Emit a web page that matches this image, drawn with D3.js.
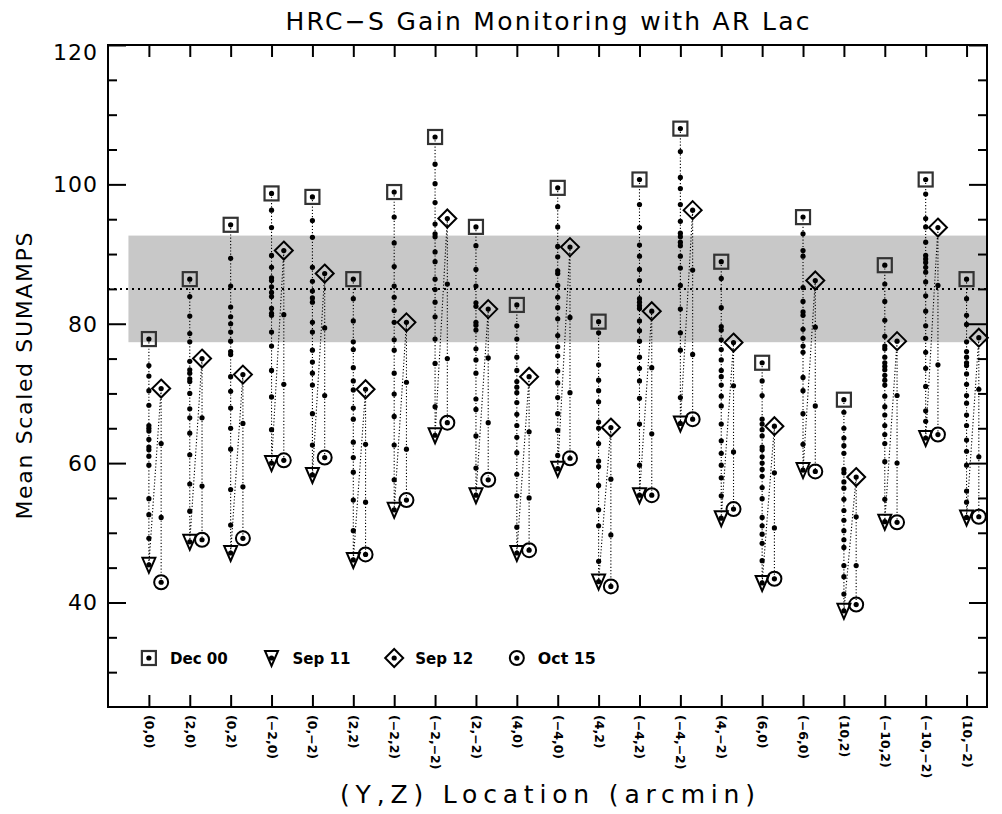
<!DOCTYPE html>
<html>
<head>
<meta charset="utf-8">
<script src="https://cdn.jsdelivr.net/npm/d3@7"></script>
<style>
  html, body { margin: 0; padding: 0; background: #fff; }
  svg { display: block; }
</style>
</head>
<body>
<svg id="chart" width="1002" height="814"></svg>
<script>
// ---------------- data ----------------
const locations = ["(0,0)","(2,0)","(0,2)","(\u22122,0)","(0,\u22122)","(2,2)","(\u22122,2)","(\u22122,\u22122)","(2,\u22122)","(4,0)","(\u22124,0)","(4,2)","(\u22124,2)","(\u22124,\u22122)","(4,\u22122)","(6,0)","(\u22126,0)","(10,2)","(\u221210,2)","(\u221210,\u22122)","(10,\u22122)"];

const dec00 = [77.8, 86.4, 94.2, 98.7, 98.2, 86.4, 98.9, 106.8, 93.9, 82.7, 99.5, 80.3, 100.7, 108.0, 88.9, 74.4, 95.3, 69.1, 88.4, 100.7, 86.4];
const sep11 = [45.4, 48.7, 47.1, 60.0, 58.3, 46.1, 53.3, 64.0, 55.4, 47.1, 59.2, 43.0, 55.4, 65.7, 52.1, 42.8, 59.0, 38.8, 51.6, 63.6, 52.2];
const sep12 = [70.7, 75.0, 72.7, 90.5, 87.2, 70.6, 80.2, 95.1, 82.1, 72.4, 91.0, 65.1, 81.8, 96.3, 77.3, 65.3, 86.2, 58.0, 77.5, 93.8, 78.0];
const oct15 = [42.9, 49.0, 49.2, 60.4, 60.8, 46.9, 54.7, 65.8, 57.6, 47.5, 60.7, 42.3, 55.4, 66.3, 53.4, 43.4, 58.8, 39.7, 51.5, 64.1, 52.3];

// intermediate epochs between Dec 00 and Sep 11
const earlyDots = [
  [74.0, 72.5, 70.4, 68.3, 65.4, 65.0, 64.6, 63.4, 62.3, 61.9, 61.0, 59.7, 54.9, 52.6, 49.2],
  [83.9, 81.1, 78.6, 77.4, 74.6, 73.4, 72.9, 72.1, 71.7, 70.0, 67.8, 66.5, 64.3, 61.2, 57.0, 53.1],
  [89.4, 85.4, 82.4, 81.0, 80.0, 78.8, 77.5, 76.0, 75.6, 72.4, 70.3, 67.9, 65.0, 62.0, 56.2, 51.1],
  [96.3, 93.8, 89.8, 88.1, 86.6, 86.2, 85.3, 84.5, 83.9, 82.2, 81.5, 81.2, 78.8, 76.8, 73.3, 69.5, 64.8],
  [94.8, 92.4, 88.1, 86.1, 84.7, 83.7, 83.1, 80.2, 78.8, 76.2, 74.5, 72.9, 71.2, 67.1, 62.6],
  [83.6, 80.4, 77.4, 76.3, 73.7, 71.8, 70.5, 67.9, 66.3, 63.0, 60.8, 58.7, 54.7, 50.3],
  [95.3, 91.6, 88.2, 85.4, 83.8, 81.9, 80.2, 77.7, 76.2, 72.9, 69.9, 66.7, 62.6, 57.6],
  [102.9, 100.1, 97.4, 94.3, 92.9, 92.5, 90.3, 88.9, 86.4, 84.9, 83.1, 81.0, 77.8, 74.3, 68.1],
  [91.2, 87.8, 85.4, 83.0, 82.5, 80.2, 79.8, 79.1, 76.4, 74.8, 72.9, 69.2, 67.7, 63.9, 59.3],
  [79.7, 77.8, 75.2, 73.3, 71.7, 70.9, 70.1, 68.7, 67.0, 65.4, 63.7, 61.5, 58.4, 55.3, 50.8],
  [96.8, 93.9, 91.1, 89.6, 87.6, 87.2, 85.5, 83.8, 82.3, 80.7, 78.3, 76.7, 75.4, 73.2, 71.5, 69.4, 67.1, 64.7, 61.1],
  [78.7, 74.1, 71.9, 70.4, 68.8, 65.9, 65.0, 62.8, 60.3, 59.5, 56.8, 53.3, 51.0, 45.9],
  [97.1, 93.8, 91.3, 89.7, 87.8, 86.2, 83.6, 83.1, 82.6, 82.2, 80.4, 79.0, 77.5, 75.2, 73.6, 71.8, 69.3, 65.6, 59.7],
  [104.7, 101.0, 99.4, 97.1, 94.7, 93.0, 92.5, 91.7, 91.2, 89.7, 88.0, 85.5, 82.1, 78.7, 76.2, 69.4],
  [86.5, 82.3, 79.6, 79.1, 77.7, 76.3, 74.8, 73.3, 72.4, 71.2, 69.6, 68.2, 65.6, 63.2, 61.4, 59.7, 57.9, 55.3],
  [71.8, 69.7, 66.3, 65.6, 64.8, 63.9, 62.3, 61.9, 60.9, 60.0, 59.1, 58.1, 56.5, 54.9, 52.2, 51.0, 49.8, 48.5, 46.0],
  [92.9, 90.5, 89.7, 85.2, 83.2, 81.7, 81.2, 79.2, 77.9, 76.8, 75.9, 72.3, 70.4, 67.1, 62.7],
  [67.3, 65.0, 63.6, 62.5, 61.4, 59.1, 58.6, 57.3, 56.4, 54.8, 53.2, 51.8, 50.3, 49.0, 47.9, 45.3, 43.7, 41.2],
  [85.7, 83.2, 80.5, 78.2, 76.8, 76.4, 75.2, 74.4, 73.9, 73.4, 72.6, 71.9, 71.2, 69.6, 68.1, 66.9, 65.4, 64.1, 62.8, 60.2, 54.8],
  [98.6, 95.1, 93.9, 91.7, 89.8, 89.3, 88.8, 88.1, 87.4, 86.0, 84.0, 81.8, 79.7, 77.9, 75.9, 73.6, 71.0, 67.5, 66.0],
  [83.6, 81.2, 79.9, 77.4, 76.0, 75.2, 74.4, 74.0, 72.8, 71.3, 69.7, 68.6, 66.9, 65.4, 63.3, 61.7, 59.7, 56.0, 54.4]
];

// intermediate epochs between Sep 12 and Oct 15
const lateDots = [
  [62.8, 52.2], [66.5, 56.7], [65.7, 56.6], [81.3, 71.3], [79.4, 69.7], [62.7, 54.4], [71.6, 62.0],
  [85.7, 75.0], [75.1, 65.8], [64.5, 55.0], [80.9, 70.1], [57.7, 49.7], [73.7, 64.2], [87.7, 75.6],
  [71.1, 61.6], [58.6, 50.7], [79.5, 68.2], [52.3, 45.3], [69.7, 60.0], [85.5, 74.1], [70.6, 60.9]
];

const nominalGain = 85;
const gainBand = [77.35, 92.65];
const yMajorTicks = [40, 60, 80, 100, 120];
const yMinorTicks = [30, 35, 45, 50, 55, 65, 70, 75, 85, 90, 95, 105, 110, 115];
const legendLabels = ["Dec 00", "Sep 11", "Sep 12", "Oct 15"];

// ---------------- layout ----------------
const plotLeft = 108, plotRight = 987, plotTop = 45, plotBottom = 707;
const lateOffset = 0.3;

const svg = d3.select("#chart");
const x = d3.scaleLinear().domain([-1, 20.5]).range([plotLeft, plotRight]);
const y = d3.scaleLinear().domain([25, 120]).range([plotBottom, plotTop]);

const font = "'DejaVu Sans', 'Liberation Sans', sans-serif";

// band
svg.append("rect")
  .attr("x", x(-0.5)).attr("width", x(20.5) - x(-0.5))
  .attr("y", y(gainBand[1])).attr("height", y(gainBand[0]) - y(gainBand[1]))
  .attr("fill", "#c8c8c8");

// nominal line
svg.append("line")
  .attr("x1", x(-1)).attr("x2", x(20.5))
  .attr("y1", y(nominalGain)).attr("y2", y(nominalGain))
  .attr("stroke", "#000").attr("stroke-width", 2).attr("stroke-dasharray", "2,4");

// series paths
const line = d3.line().x(d => x(d[0])).y(d => y(d[1]));
const g = svg.append("g");
locations.forEach((loc, i) => {
  const pts = [[i, dec00[i]]]
    .concat(earlyDots[i].map(v => [i, v]))
    .concat([[i, sep11[i]], [i + lateOffset, sep12[i]]])
    .concat(lateDots[i].map(v => [i + lateOffset, v]))
    .concat([[i + lateOffset, oct15[i]]]);
  g.append("path").attr("d", line(pts))
    .attr("fill", "none").attr("stroke", "#000").attr("stroke-width", 1.1)
    .attr("stroke-dasharray", "1.2,2");
  earlyDots[i].forEach(v => g.append("circle").attr("cx", x(i)).attr("cy", y(v)).attr("r", 2.6).attr("fill", "#000"));
  lateDots[i].forEach(v => g.append("circle").attr("cx", x(i + lateOffset)).attr("cy", y(v)).attr("r", 2.6).attr("fill", "#000"));
});

// symbols
function symbol(sel, kind, cx, cy) {
  const s = sel.append("g").attr("transform", `translate(${cx},${cy})`);
  if (kind === 0) {
    s.append("rect").attr("x", -7).attr("y", -7).attr("width", 14).attr("height", 14)
      .attr("fill", "none").attr("stroke", "#333").attr("stroke-width", 2.2);
  } else if (kind === 1) {
    s.append("path").attr("d", "M-6.5,-7L6.5,-7L0,8Z")
      .attr("fill", "none").attr("stroke", "#000").attr("stroke-width", 2);
  } else if (kind === 2) {
    s.append("path").attr("d", "M0,-9L9,0L0,9L-9,0Z")
      .attr("fill", "none").attr("stroke", "#000").attr("stroke-width", 2);
  } else {
    s.append("circle").attr("r", 7)
      .attr("fill", "none").attr("stroke", "#000").attr("stroke-width", 2);
  }
  s.append("circle").attr("r", 2.6).attr("fill", "#000");
}
const series = [dec00, sep11, sep12, oct15];
const seriesOffset = [0, 0, lateOffset, lateOffset];
series.forEach((arr, k) => {
  arr.forEach((v, i) => symbol(g, k, x(i + seriesOffset[k]), y(v)));
});

// legend
const legendY = 658;
const legendPos = [0, 3, 6, 9];
legendLabels.forEach((lab, k) => {
  symbol(svg, k, x(legendPos[k]), legendY);
  svg.append("text").attr("x", x(legendPos[k]) + 21).attr("y", legendY).attr("dy", "0.36em")
    .attr("font-family", font).attr("font-weight", "bold").attr("font-size", 16)
    .attr("textLength", 58).attr("lengthAdjust", "spacingAndGlyphs")
    .text(lab);
});

// axes
function styleAxis(sel) {
  sel.select(".domain").remove();
  sel.selectAll(".tick line").attr("stroke", "#000").attr("stroke-width", 2);
  sel.selectAll("text").attr("fill", "#000");
}
svg.append("g").attr("transform", `translate(${plotLeft},0)`)
  .call(d3.axisLeft(y).tickValues(yMajorTicks).tickSize(-18).tickPadding(10).tickFormat(d3.format("d")))
  .call(styleAxis)
  .call(s => s.selectAll("text").attr("font-family", font).attr("font-size", 22).attr("letter-spacing", "1px")
    .attr("dy", d => d === d3.max(yMajorTicks) ? "0.68em" : "0.34em"));
svg.append("g").attr("transform", `translate(${plotLeft},0)`)
  .call(d3.axisLeft(y).tickValues(yMinorTicks).tickSize(-9).tickFormat(""))
  .call(styleAxis);
svg.append("g").attr("transform", `translate(${plotRight},0)`)
  .call(d3.axisRight(y).tickValues(yMajorTicks).tickSize(-18).tickFormat(""))
  .call(styleAxis);
svg.append("g").attr("transform", `translate(${plotRight},0)`)
  .call(d3.axisRight(y).tickValues(yMinorTicks).tickSize(-9).tickFormat(""))
  .call(styleAxis);
svg.append("g").attr("transform", `translate(0,${plotTop})`)
  .call(d3.axisTop(x).tickValues(d3.range(locations.length)).tickSize(-12).tickFormat(""))
  .call(styleAxis);
svg.append("g").attr("transform", `translate(0,${plotBottom})`)
  .call(d3.axisBottom(x).tickValues(d3.range(locations.length)).tickSize(-12).tickFormat(i => locations[i]))
  .call(styleAxis)
  .call(s => s.selectAll("text")
    .attr("transform", "rotate(90)").attr("x", 8).attr("y", 0).attr("dy", "0.36em")
    .attr("text-anchor", "start")
    .attr("font-family", font).attr("font-weight", "bold").attr("font-size", 12.5));

// frame
svg.append("rect").attr("x", plotLeft).attr("y", plotTop).attr("width", plotRight - plotLeft).attr("height", plotBottom - plotTop)
  .attr("fill", "none").attr("stroke", "#000").attr("stroke-width", 2);

// titles
svg.append("text").attr("x", (plotLeft + plotRight) / 2).attr("y", 30).attr("text-anchor", "middle")
  .attr("font-family", font).attr("font-size", 25)
  .attr("textLength", 524).attr("lengthAdjust", "spacing")
  .text("HRC\u2212S Gain Monitoring with AR Lac");
svg.append("text").attr("x", (plotLeft + plotRight) / 2).attr("y", 803).attr("text-anchor", "middle")
  .attr("font-family", font).attr("font-size", 25)
  .attr("textLength", 415).attr("lengthAdjust", "spacing")
  .text("(Y,Z) Location (arcmin)");
svg.append("text").attr("transform", `translate(32,${(plotTop + plotBottom) / 2}) rotate(-90)`)
  .attr("text-anchor", "middle")
  .attr("font-family", font).attr("font-size", 22)
  .attr("textLength", 287).attr("lengthAdjust", "spacing")
  .text("Mean Scaled SUMAMPS");
</script>
</body>
</html>
